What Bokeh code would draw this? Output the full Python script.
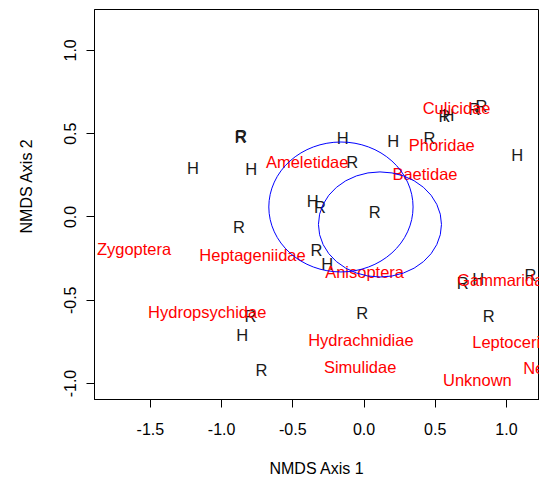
from bokeh.plotting import figure
from bokeh.models import ColumnDataSource, Range1d, FixedTicker, PrintfTickFormatter, Title
from bokeh.core.properties import value
from bokeh.embed import file_html
from bokeh.resources import INLINE

# Site scores (labels H / R)
site_labels = ["R", "R", "H", "H", "R", "H", "H", "R", "H", "R", "H", "R", "R", "R",
               "H", "R", "H", "R", "R", "R", "R", "H", "R", "R", "H", "R", "R"]
site_x = [-0.867, -0.862, -1.202, -0.792, -0.879, -0.149, 0.205, 0.460, 1.076, -0.083,
          -0.360, -0.310, 0.076, -0.334, -0.258, 0.694, 0.802, 1.169, -0.013, 0.876,
          -0.797, -0.855, -0.720, 0.565, 0.593, 0.776, 0.825]
site_y = [0.481, 0.486, 0.295, 0.287, -0.058, 0.477, 0.455, 0.477, 0.375, 0.331,
          0.096, 0.062, 0.032, -0.198, -0.281, -0.397, -0.371, -0.347, -0.577, -0.593,
          -0.597, -0.707, -0.916, 0.605, 0.611, 0.647, 0.665]

# Species scores
species = ["Culicidae", "Phoridae", "Ameletidae", "Baetidae", "Zygoptera", "Heptageniidae",
           "Anisoptera", "Gammaridae", "Hydropsychidae", "Hydrachnidiae", "Leptoceridae",
           "Simulidae", "Unknown", "Nemouridae"]
species_x = [0.650, 0.546, -0.399, 0.428, -1.615, -0.783, 0.004, 0.989, -1.101, -0.022,
             1.095, -0.027, 0.796, 1.433]
species_y = [0.656, 0.431, 0.331, 0.256, -0.193, -0.228, -0.328, -0.377, -0.573, -0.737,
             -0.753, -0.902, -0.976, -0.906]

# Group ellipses
ell_x = [-0.162, 0.112]
ell_y = [0.060, -0.045]
ell_w = [1.013, 0.864]
ell_h = [0.780, 0.631]

x_ticks = [-1.5, -1.0, -0.5, 0.0, 0.5, 1.0]
y_ticks = [-1.0, -0.5, 0.0, 0.5, 1.0]

FONT = "Liberation Sans"

p = figure(width=539, height=479, output_backend="svg", toolbar_location=None,
           x_range=Range1d(-1.8926, 1.2324), y_range=Range1d(-1.0958, 1.2455),
           min_border_left=94, min_border_right=0, min_border_top=9, min_border_bottom=79)
p.background_fill_color = "white"
p.border_fill_color = "white"
p.outline_line_color = "black"
p.outline_line_width = 1
p.xgrid.visible = False
p.ygrid.visible = False

for ax, ticks in ((p.xaxis[0], x_ticks), (p.yaxis[0], y_ticks)):
    ax.ticker = FixedTicker(ticks=ticks)
    ax.formatter = PrintfTickFormatter(format="%.1f")
    ax.major_tick_out = 8
    ax.major_tick_in = 0
    ax.minor_tick_line_color = None
    ax.axis_line_color = "black"
    ax.major_tick_line_color = "black"
    ax.major_label_text_font = FONT
    ax.major_label_text_font_size = "16px"
    ax.major_label_text_color = "black"
p.xaxis[0].major_label_standoff = 15
p.yaxis[0].major_label_standoff = 10
p.yaxis[0].major_label_orientation = "vertical"

p.xaxis[0].axis_label = "NMDS Axis 1"
p.xaxis[0].axis_label_standoff = 22
p.xaxis[0].axis_label_text_font = FONT
p.xaxis[0].axis_label_text_font_size = "16px"
p.xaxis[0].axis_label_text_font_style = "normal"
p.xaxis[0].axis_label_text_color = "black"

src_sites = ColumnDataSource(dict(x=site_x, y=site_y, t=site_labels))
src_sp = ColumnDataSource(dict(x=species_x, y=species_y, t=species))
src_ell = ColumnDataSource(dict(x=ell_x, y=ell_y, w=ell_w, h=ell_h))

p.text(x="x", y="y", text="t", source=src_sites, text_font=value(FONT),
       text_font_size="16.5px", text_align="center", text_baseline="middle",
       text_color="#1a1a1a")
p.text(x="x", y="y", text="t", source=src_sp, text_font=value(FONT),
       text_font_size="16.5px", text_align="center", text_baseline="middle",
       text_color="#ff0000")
p.ellipse(x="x", y="y", width="w", height="h", source=src_ell, fill_alpha=0,
          line_color="#0000ff", line_width=1)

# spacer between the y axis and its title
p.add_layout(Title(text=" ", text_font_size="1px", standoff=19), "left")
p.add_layout(Title(text="NMDS Axis 2", align="left", offset=166, standoff=10,
                   text_font=FONT, text_font_size="16px", text_font_style="normal",
                   text_color="black"), "left")

open("out.html", "w").write(file_html(p, INLINE))
